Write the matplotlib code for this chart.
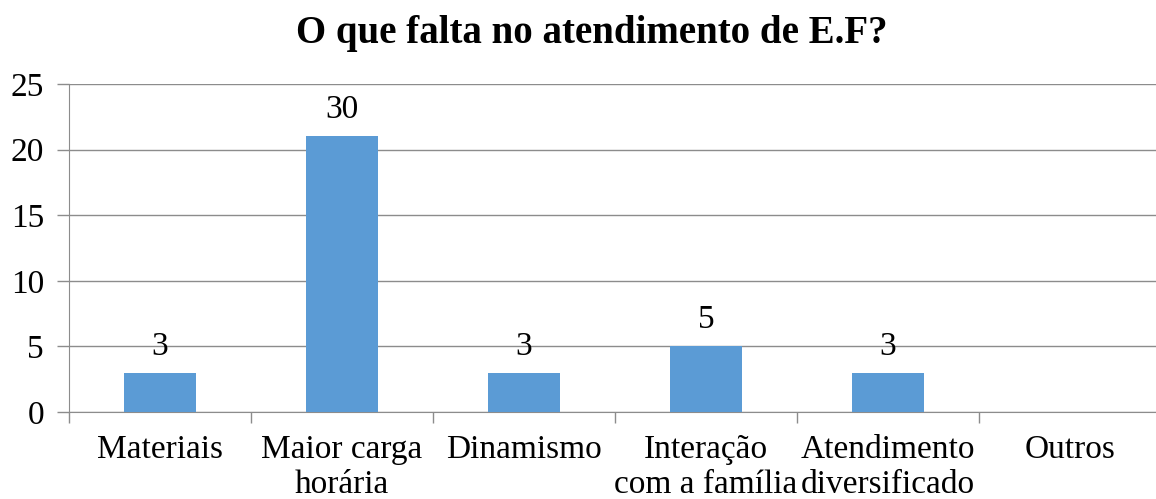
import matplotlib.pyplot as plt
import numpy as np

categories = ['Materiais', 'Maior carga\nhorária', 'Dinamismo',
              'Interação\ncom a família', 'Atendimento\ndiversificado', 'Outros']
values = [3, 21, 3, 5, 3, 0]
value_labels = ['3', '30', '3', '5', '3', '']
y_ticks = [0, 5, 10, 15, 20, 25]

plt.rcParams['font.family'] = ['Liberation Serif', 'DejaVu Serif']

fig = plt.figure(figsize=(11.56, 4.99), dpi=100)
ax = fig.add_axes([69 / 1156, 1 - 412 / 499, 1092 / 1156, 328 / 499])

x = np.arange(len(categories))
bars = ax.bar(x, values, width=0.4, color='#5B9BD5', zorder=3)

for b, lab in zip(bars, value_labels):
    ax.annotate(lab, (b.get_x() + b.get_width() / 2, b.get_height()),
                xytext=(0, 8), textcoords='offset points',
                ha='center', va='bottom', fontsize=24)

ax.set_xlim(-0.5, len(categories) - 0.5)
ax.set_ylim(0, 25)
ax.set_yticks(y_ticks)
ax.set_yticklabels([str(t) for t in y_ticks], fontsize=24)
ax.yaxis.grid(True, color='#8C8C8C', linewidth=1, zorder=0)

# category labels centred, ticks on the boundaries
ax.set_xticks(x)
ax.set_xticklabels(categories, fontsize=24, linespacing=1.2)
ax.tick_params(axis='x', length=0, pad=16)
ax.set_xticks(np.arange(len(categories) + 1) - 0.5, minor=True)
ax.tick_params(axis='x', which='minor', length=8, color='#8C8C8C', width=1)
ax.tick_params(axis='y', length=9, color='#8C8C8C', width=1, pad=9)

for s in ['top', 'right']:
    ax.spines[s].set_visible(False)
for s in ['left', 'bottom']:
    ax.spines[s].set_color('#8C8C8C')

fig.text(592 / 1156, 1 - 33 / 499, 'O que falta no atendimento de E.F?',
         ha='center', va='center', fontsize=28, fontweight='bold')

fig.savefig('out.png', dpi=100)
